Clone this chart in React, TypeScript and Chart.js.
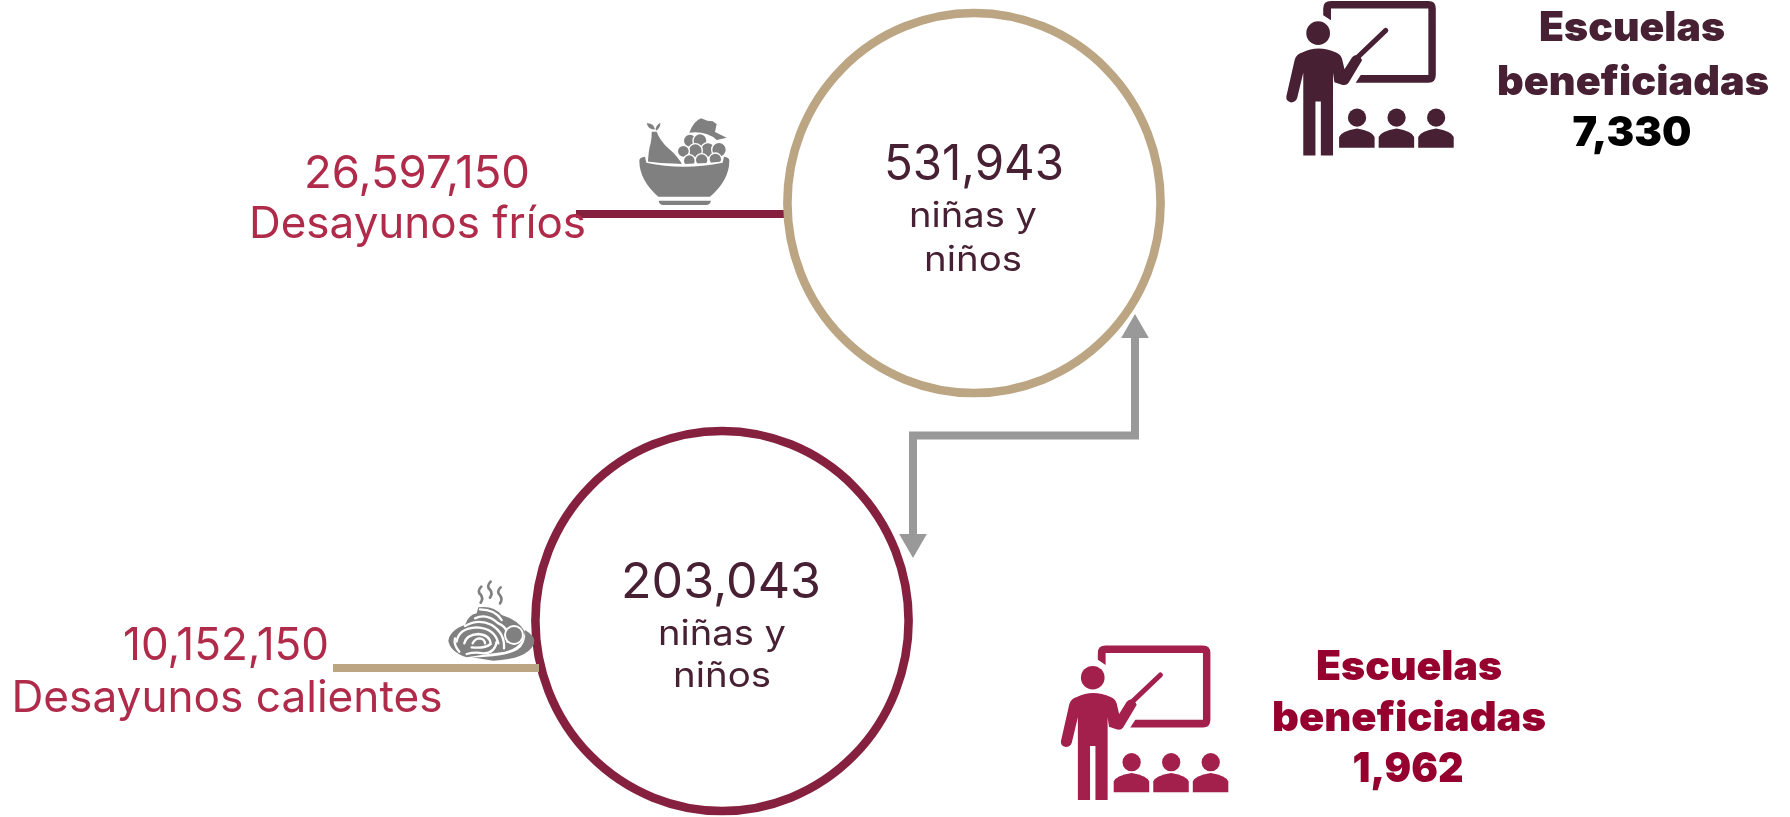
import React, { useEffect, useRef } from "react";
import { Chart, registerables } from "chart.js";

Chart.register(...registerables);

const W = 1790;
const H = 817;

const COLORS = {
  tan: "#bba582",
  maroon: "#86203f",
  grey: "#999999",
  icon: "#808080",
  dark: "#472033",
  crimson: "#b02a4a",
  schoolRed: "#96002f",
  teacherRed: "#a31f4c",
};

const coldBreakfasts = "26,597,150";
const hotBreakfasts = "10,152,150";
const coldKids = "531,943";
const hotKids = "203,043";
const coldSchools = "7,330";
const hotSchools = "1,962";
const coldLabel = "Desayunos fríos";
const hotLabel = "Desayunos calientes";
const kidsLines = ["niñas y", "niños"];
const schoolLines = ["Escuelas", "beneficiadas"];

const coldCircle = [{ x: 974, y: 203 }];
const hotCircle = [{ x: 722, y: 621 }];
const coldLink = [{ x: 576, y: 214 }, { x: 786, y: 214 }];
const hotLink = [{ x: 333, y: 668 }, { x: 539, y: 668 }];
const arrowPath = [
  { x: 1135, y: 335 },
  { x: 1135, y: 435.5 },
  { x: 913, y: 435.5 },
  { x: 913, y: 537 },
];
const arrowHeads = [{ x: 1135, y: 330 }, { x: 913, y: 542 }];

type T = { s: string; x: number; y: number; font: string; color: string; w: number };

const REG = (px: number) => `400 ${px}px Inter, "Noto Sans", sans-serif`;
const BLK = (px: number) => `900 ${px}px Inter, "Noto Sans", sans-serif`;

const texts: T[] = [
  { s: coldBreakfasts, x: 417, y: 188, font: REG(45), color: COLORS.crimson, w: 226 },
  { s: coldLabel, x: 417.5, y: 238, font: REG(44), color: COLORS.crimson, w: 337 },
  { s: hotBreakfasts, x: 226, y: 660, font: REG(45), color: COLORS.crimson, w: 206 },
  { s: hotLabel, x: 227, y: 712, font: REG(44), color: COLORS.crimson, w: 431 },
  { s: coldKids, x: 974, y: 180, font: REG(49), color: COLORS.dark, w: 180 },
  { s: kidsLines[0], x: 973, y: 227, font: REG(35), color: COLORS.dark, w: 128 },
  { s: kidsLines[1], x: 973, y: 271, font: REG(35), color: COLORS.dark, w: 98 },
  { s: hotKids, x: 721, y: 598, font: REG(49), color: COLORS.dark, w: 200 },
  { s: kidsLines[0], x: 722, y: 645, font: REG(35), color: COLORS.dark, w: 128 },
  { s: kidsLines[1], x: 722, y: 687, font: REG(35), color: COLORS.dark, w: 98 },
  { s: schoolLines[0], x: 1632, y: 41, font: BLK(41), color: COLORS.dark, w: 186 },
  { s: schoolLines[1], x: 1633, y: 95, font: BLK(41), color: COLORS.dark, w: 272 },
  { s: coldSchools, x: 1632, y: 146, font: BLK(41), color: "#000000", w: 119 },
  { s: schoolLines[0], x: 1409, y: 680, font: BLK(41), color: COLORS.schoolRed, w: 186 },
  { s: schoolLines[1], x: 1409, y: 731, font: BLK(41), color: COLORS.schoolRed, w: 274 },
  { s: hotSchools, x: 1408, y: 782, font: BLK(41), color: COLORS.schoolRed, w: 111 },
];

function teacher(ctx: CanvasRenderingContext2D, ox: number, oy: number, color: string) {
  ctx.save();
  ctx.translate(ox, oy);
  ctx.scale(1 / 2.958, 1 / 2.958);
  ctx.fillStyle = color;
  ctx.strokeStyle = color;
  ctx.fill(new Path2D("M187 45 L187 25 Q187 3 210 3 L498 3 Q520 3 520 25 L520 222 Q520 245 498 245 L283 245 L298 222 L498 222 L498 25 L210 25 L210 60 Z"));
  ctx.beginPath();
  ctx.arc(172, 98, 35, 0, Math.PI * 2);
  ctx.fill();
  ctx.fill(new Path2D("M78 285 L103 175 Q108 160 125 155 Q172 132 225 155 Q240 162 243 175 L250 205 L272 170 Q280 158 295 165 L302 178 L262 245 Q255 255 240 250 L220 243 L216 215 L216 460 L180 460 L180 300 L164 300 L164 460 L128 460 L128 215 L110 290 Q105 303 92 303 Q76 300 78 285 Z"));
  ctx.lineWidth = 15;
  ctx.lineCap = "round";
  ctx.beginPath();
  ctx.moveTo(290, 168);
  ctx.lineTo(372, 90);
  ctx.stroke();
  [0, 117, 234].forEach((dx) => {
    ctx.beginPath();
    ctx.arc(287 + dx, 348, 27, 0, Math.PI * 2);
    ctx.fill();
    ctx.fill(new Path2D(`M${234 + dx} 437 L${234 + dx} 405 Q${240 + dx} 388 ${287 + dx} 380 Q${333 + dx} 388 ${339 + dx} 405 L${339 + dx} 437 Z`));
  });
  ctx.restore();
}

function fruitBowl(ctx: CanvasRenderingContext2D, ox: number, oy: number) {
  ctx.save();
  ctx.translate(ox, oy);
  ctx.scale(1 / 3, 1 / 3);
  ctx.fillStyle = COLORS.icon;
  ctx.fill(new Path2D("M268 98 Q280 64 303 55 L322 62 L338 64 L350 72 L345 96 L380 113 L350 120 Q320 92 268 98 Z"));
  const grapes = [[270, 122, 20], [300, 122, 21], [324, 150, 22], [357, 149, 22], [286, 152, 21], [250, 154, 18], [268, 182, 18], [305, 180, 19], [346, 178, 19]];
  grapes.forEach(([x, y, r]) => {
    ctx.beginPath();
    ctx.arc(x, y, r, 0, Math.PI * 2);
    ctx.fillStyle = COLORS.icon;
    ctx.fill();
    ctx.lineWidth = 4;
    ctx.strokeStyle = "#ffffff";
    ctx.stroke();
  });
  ctx.fillStyle = COLORS.icon;
  ctx.strokeStyle = "#ffffff";
  ctx.lineWidth = 4;
  const pear = new Path2D("M155 95 L170 95 Q180 122 205 145 Q235 170 250 200 L143 200 Q145 150 152 130 Q156 110 155 95 Z");
  ctx.stroke(pear);
  ctx.fill(pear);
  ctx.fill(new Path2D("M140 70 Q160 68 165 88 Q145 90 140 70 Z M181 68 Q182 84 168 92 Q164 78 181 68 Z"));
  ctx.fillStyle = "#ffffff";
  ctx.fill(new Path2D("M128 183 Q250 201 380 183 L380 215 L128 215 Z"));
  ctx.fillStyle = COLORS.icon;
  ctx.fill(new Path2D("M118 182 Q118 172 135 170 L139 188 Q250 212 368 188 L372 170 Q388 172 388 182 Q388 240 330 290 L175 290 Q118 240 118 182 Z"));
  ctx.fill(new Path2D("M176 302 L333 302 Q330 315 318 315 L190 315 Q178 315 176 302 Z"));
  ctx.restore();
}

function noodles(ctx: CanvasRenderingContext2D, ox: number, oy: number) {
  ctx.save();
  ctx.translate(ox, oy);
  ctx.scale(1 / 3, 1 / 3);
  ctx.strokeStyle = COLORS.icon;
  ctx.fillStyle = COLORS.icon;
  ctx.lineCap = "round";
  ctx.lineWidth = 8;
  [[152, 50], [180, 35], [210, 52]].forEach(([x, y]) => {
    ctx.stroke(new Path2D(`M${x + 2} ${y} Q${x - 12} ${y + 14} ${x} ${y + 24} Q${x + 9} ${y + 36} ${x} ${y + 48}`));
  });
  // plate rim
  ctx.fill(new Path2D("M285 180 Q320 200 312 222 Q290 268 190 272 L125 262 Q220 262 262 240 Q290 222 285 180 Z"));
  // mound
  ctx.fill(new Path2D("M55 212 Q60 180 105 165 Q115 135 140 130 L145 112 Q190 105 215 135 Q265 150 285 185 Q280 230 225 245 L190 250 L110 262 Q60 245 55 212 Z"));
  // noodle gaps
  ctx.strokeStyle = "#ffffff";
  ctx.lineWidth = 7;
  ["M150 118 Q195 118 215 150", "M105 168 Q145 145 185 165 Q225 190 222 235", "M135 145 Q170 128 205 160 Q240 175 232 215",
    "M80 215 Q85 175 140 172 Q195 175 205 220", "M110 252 Q135 245 160 250 Q195 250 200 215", "M103 220 Q108 195 145 192 Q180 195 182 222 Q165 236 125 232",
    "M128 220 Q135 205 150 205 Q165 208 165 220", "M88 245 Q70 225 75 205"].forEach((d) => ctx.stroke(new Path2D(d)));
  ctx.beginPath();
  ctx.arc(252, 195, 30, 0, Math.PI * 2);
  ctx.fillStyle = "#ffffff";
  ctx.fill();
  ctx.beginPath();
  ctx.arc(252, 195, 24, 0, Math.PI * 2);
  ctx.fillStyle = COLORS.icon;
  ctx.fill();
  ctx.restore();
}

// The source rings are slightly taller than wide, so each is a canvas point style.
function ellipseStyle(rx: number, ry: number, lw: number, color: string) {
  const c = document.createElement("canvas");
  c.width = 400;
  c.height = 400;
  const g = c.getContext("2d")!;
  g.strokeStyle = color;
  g.lineWidth = lw;
  g.beginPath();
  g.ellipse(200, 200, rx, ry, 0, 0, Math.PI * 2);
  g.stroke();
  return c;
}

const overlay = {
  id: "overlay",
  afterDatasetsDraw(chart: any) {
    const { ctx, scales } = chart;
    const px = (v: number) => scales.x.getPixelForValue(v);
    const py = (v: number) => scales.y.getPixelForValue(v);
    fruitBowl(ctx, px(600), py(100));
    noodles(ctx, px(430), py(570));
    teacher(ctx, px(1260), py(0), COLORS.dark);
    teacher(ctx, px(1034.6), py(644.6), COLORS.teacherRed);
    ctx.textBaseline = "alphabetic";
    ctx.textAlign = "center";
    texts.forEach((t) => {
      ctx.save();
      ctx.font = t.font;
      ctx.fillStyle = t.color;
      const natural = ctx.measureText(t.s).width;
      ctx.translate(px(t.x), py(t.y));
      ctx.scale(t.w / natural, 1);
      ctx.fillText(t.s, 0, 0);
      ctx.restore();
    });
  },
};

export default function App() {
  const ref = useRef<HTMLCanvasElement | null>(null);
  useEffect(() => {
    if (!ref.current) return;
    const ring = (data: any[], color: string, order: number) => ({
      type: "scatter" as const,
      data,
      order,
      clip: false,
      pointStyle: ellipseStyle(186.6, 190, 8.6, color),
      pointRadius: 100,
      pointBorderWidth: 0,
      pointBackgroundColor: "rgba(255,255,255,0)",
    });
    const seg = (data: any[], color: string, order: number) => ({
      type: "line" as const,
      data,
      order,
      clip: false,
      borderColor: color,
      borderWidth: 8,
      pointRadius: 0,
      tension: 0,
      borderJoinStyle: "miter" as const,
      fill: false,
    });
    const chart = new Chart(ref.current, {
      type: "scatter",
      data: {
        datasets: [
          seg(hotLink, COLORS.tan, 1),
          ring(coldCircle, COLORS.tan, 2),
          ring(hotCircle, COLORS.maroon, 3),
          seg(coldLink, COLORS.maroon, 4),
          {
            type: "scatter" as const,
            data: arrowHeads,
            order: 5,
            clip: false,
            pointStyle: "triangle",
            pointRadius: 16,
            pointRotation: [0, 180],
            pointBorderWidth: 0,
            pointBackgroundColor: COLORS.grey,
          } as any,
          seg(arrowPath, COLORS.grey, 6),
        ] as any,
      },
      options: {
        animation: false,
        responsive: false,
        layout: { padding: 0, autoPadding: false },
        events: [],
        plugins: { legend: { display: false }, tooltip: { enabled: false } },
        scales: {
          x: { type: "linear", min: 0, max: W, display: false },
          y: { type: "linear", min: 0, max: H, reverse: true, display: false },
        },
      },
      plugins: [overlay],
    });
    return () => chart.destroy();
  }, []);
  return (
    <div style={{ position: "absolute", left: 0, top: 0, width: W, height: H, background: "#ffffff", overflow: "hidden" }}>
      <canvas ref={ref} width={W} height={H} style={{ display: "block", width: W, height: H }} />
    </div>
  );
}
